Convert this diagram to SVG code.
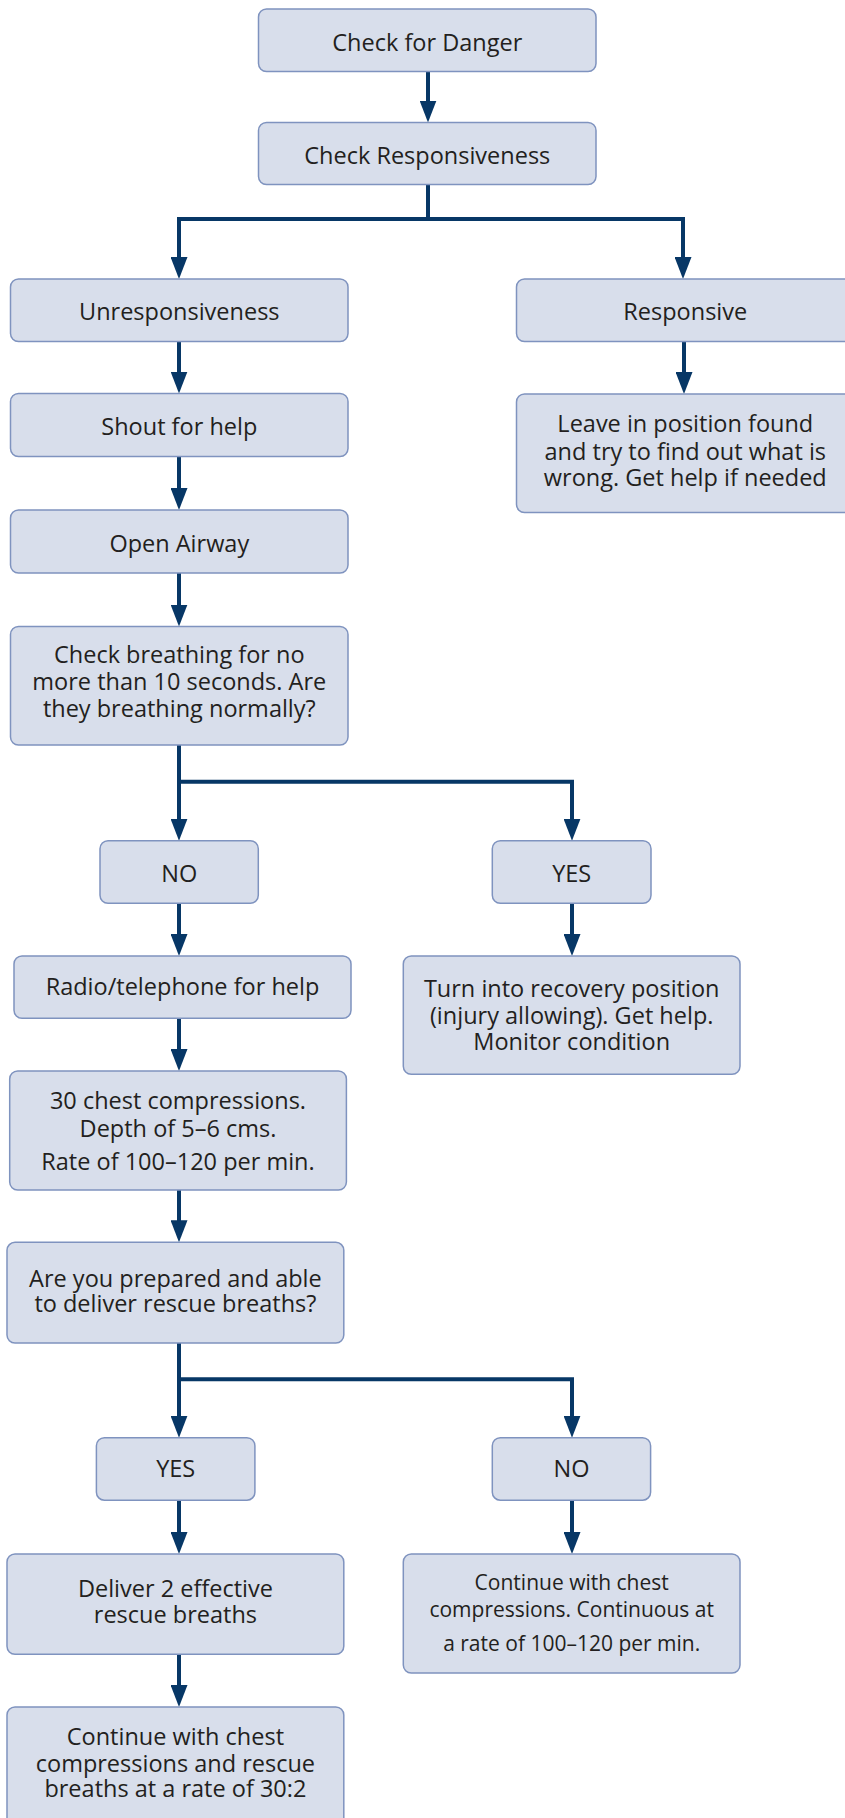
<svg xmlns="http://www.w3.org/2000/svg" width="845" height="1818" viewBox="0 0 845 1818">
<style>
.box{fill:#d8deeb;stroke:#7f93bf;stroke-width:1.5}
.t{font-family:"Open Sans","Liberation Sans",sans-serif;font-size:23.5px;fill:#231f20;text-anchor:middle}
.s{font-size:21px}
.c{fill:none;stroke:#073766;stroke-width:4;stroke-linejoin:miter;marker-end:url(#ah)}
.p{fill:none;stroke:#073766;stroke-width:4}
</style>
<defs>
<marker id="ah" viewBox="0 0 22 17" refX="2" refY="8.5" markerWidth="22" markerHeight="17" markerUnits="userSpaceOnUse" orient="auto">
<path d="M0,0 L22,8.5 L0,17 z" fill="#073766"/>
</marker>
</defs>
<rect width="845" height="1818" fill="#ffffff"/>
<g id="connectors">
<path class="c" d="M428,71.5 V102.5"/>
<path class="c" d="M428,184.5 V219 H179 V259"/>
<path class="c" d="M428,219 H683 V259"/>
<path class="c" d="M179,341.5 V373.5"/>
<path class="c" d="M684,341.5 V374"/>
<path class="c" d="M179,456.5 V490"/>
<path class="c" d="M179,573 V606.5"/>
<path class="c" d="M179,745 V820.7"/>
<path class="c" d="M179,781.7 H572 V820.7"/>
<path class="c" d="M179,903.3 V936"/>
<path class="c" d="M572,903.3 V936"/>
<path class="c" d="M179,1018.3 V1051"/>
<path class="c" d="M179,1190 V1222.3"/>
<path class="c" d="M179,1343 V1417.7"/>
<path class="c" d="M179,1379.3 H572 V1417.7"/>
<path class="c" d="M179,1500.2 V1534"/>
<path class="c" d="M572,1500.2 V1534"/>
<path class="c" d="M179,1654.3 V1687"/>
</g>
<g id="n1"><rect class="box" x="258.5" y="9" width="337.5" height="62.5" rx="8"/><text class="t" x="427.3" y="50.5">Check for Danger</text></g>
<g id="n2"><rect class="box" x="258.5" y="122.5" width="337.5" height="62" rx="8"/><text class="t" x="427.3" y="163.5">Check Responsiveness</text></g>
<g id="n3"><rect class="box" x="10.5" y="279" width="337.5" height="62.5" rx="8"/><text class="t" x="179.3" y="320">Unresponsiveness</text></g>
<g id="n4"><rect class="box" x="516.5" y="279" width="337.5" height="62.5" rx="8"/><text class="t" x="685.3" y="320">Responsive</text></g>
<g id="n5"><rect class="box" x="10.5" y="393.5" width="337.5" height="63" rx="8"/><text class="t" x="179.3" y="435">Shout for help</text></g>
<g id="n6"><rect class="box" x="516.5" y="394" width="337.5" height="118.5" rx="8"/><text class="t" x="685.3" y="432.3">Leave in position found</text><text class="t" x="685.3" y="459.5">and try to find out what is</text><text class="t" x="685.3" y="486">wrong. Get help if needed</text></g>
<g id="n7"><rect class="box" x="10.5" y="510" width="337.5" height="63" rx="8"/><text class="t" x="179.3" y="551.5">Open Airway</text></g>
<g id="n8"><rect class="box" x="10.5" y="626.5" width="337.5" height="118.5" rx="8"/><text class="t" x="179.3" y="663.3">Check breathing for no</text><text class="t" x="179.3" y="690">more than 10 seconds. Are</text><text class="t" x="179.3" y="716.7">they breathing normally?</text></g>
<g id="n9"><rect class="box" x="100" y="840.7" width="158.3" height="62.6" rx="8"/><text class="t" x="179.2" y="882">NO</text></g>
<g id="n10"><rect class="box" x="492.3" y="840.7" width="158.7" height="62.6" rx="8"/><text class="t" x="571.7" y="882">YES</text></g>
<g id="n11"><rect class="box" x="14" y="956" width="337" height="62.3" rx="8"/><text class="t" x="182.5" y="995">Radio/telephone for help</text></g>
<g id="n12"><rect class="box" x="403.3" y="956" width="336.7" height="118.3" rx="8"/><text class="t" x="571.7" y="996.7">Turn into recovery position</text><text class="t" x="571.7" y="1023.7">(injury allowing). Get help.</text><text class="t" x="571.7" y="1049.5">Monitor condition</text></g>
<g id="n13"><rect class="box" x="9.7" y="1071" width="336.7" height="119" rx="8"/><text class="t" x="178" y="1109">30 chest compressions.</text><text class="t" x="178" y="1136.7">Depth of 5–6 cms.</text><text class="t" x="178" y="1170">Rate of 100–120 per min.</text></g>
<g id="n14"><rect class="box" x="7" y="1242.3" width="336.8" height="100.7" rx="8"/><text class="t" x="175.4" y="1286.7">Are you prepared and able</text><text class="t" x="175.4" y="1312.3">to deliver rescue breaths?</text></g>
<g id="n15"><rect class="box" x="96.4" y="1437.7" width="158.5" height="62.5" rx="8"/><text class="t" x="175.7" y="1476.7">YES</text></g>
<g id="n16"><rect class="box" x="492.3" y="1437.7" width="158.3" height="62.5" rx="8"/><text class="t" x="571.5" y="1476.7">NO</text></g>
<g id="n17"><rect class="box" x="7" y="1554" width="336.8" height="100.3" rx="8"/><text class="t" x="175.4" y="1597.3">Deliver 2 effective</text><text class="t" x="175.4" y="1623.3">rescue breaths</text></g>
<g id="n18"><rect class="box" x="403.3" y="1554" width="336.7" height="119" rx="8"/><text class="t s" x="571.7" y="1590">Continue with chest</text><text class="t s" x="571.7" y="1616.7">compressions. Continuous at</text><text class="t s" x="571.7" y="1650.7">a rate of 100–120 per min.</text></g>
<g id="n19"><rect class="box" x="7" y="1707" width="336.8" height="130" rx="8"/><text class="t" x="175.4" y="1745">Continue with chest</text><text class="t" x="175.4" y="1771.7">compressions and rescue</text><text class="t" x="175.4" y="1797.3">breaths at a rate of 30:2</text></g>
</svg>
